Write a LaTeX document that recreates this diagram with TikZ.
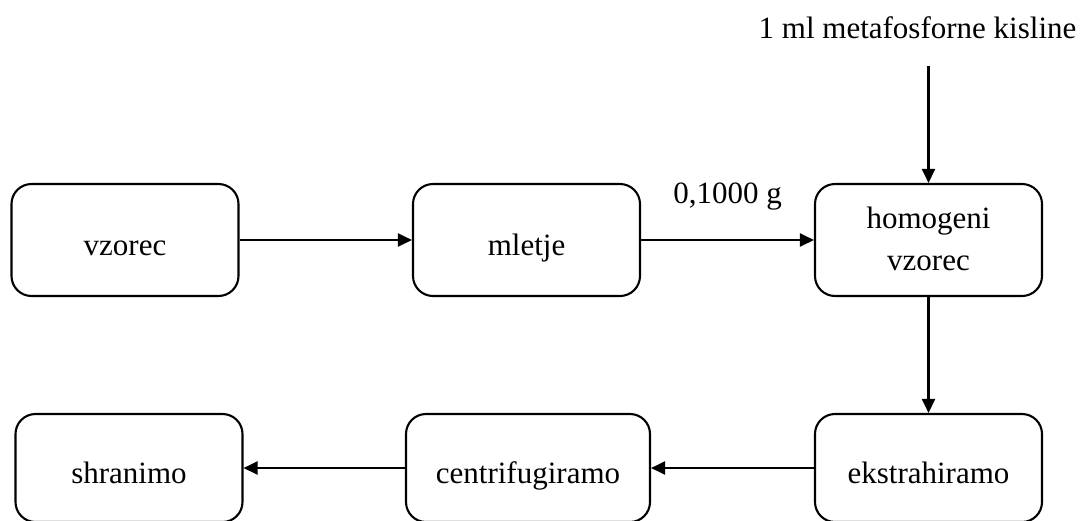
\documentclass[tikz,border=0pt]{standalone}
\usepackage{fontspec}
\setmainfont{Liberation Serif}
\usetikzlibrary{arrows.meta}
\tikzset{
  stepbox/.style={draw, line width=2.1pt, rounded corners=20pt, minimum width=227pt,
    minimum height=112pt, inner sep=0pt, font=\fontsize{31}{42}\selectfont,
    text height=30pt, text depth=0pt},
  lowbox/.style={stepbox, minimum height=108pt},
  txt/.style={font=\fontsize{31}{42}\selectfont, inner sep=0pt},
  flow/.style={line width=2.3pt, -{Triangle[length=14pt,width=13pt]}}
}
\begin{document}
\begin{tikzpicture}[x=1pt,y=-1pt]
\useasboundingbox (0,0) rectangle (1087,520);
\node[stepbox] (vz) at (125,240) {vzorec};
\node[stepbox] (ml) at (526.5,240) {mletje};
\node[stepbox, align=center, text height=60pt, text depth=0pt] (hv) at (928.5,240) {homogeni\\vzorec};
\node[lowbox] (ek) at (928.5,468) {ekstrahiramo};
\node[lowbox, minimum width=244pt] (ce) at (528,468) {centrifugiramo};
\node[lowbox] (sh) at (129,468) {shranimo};
\node[txt, anchor=base] (mk) at (917.5,38) {1 ml metafosforne kisline};
\coordinate (mka) at (928.5,66);
\draw[flow] (vz) -- (ml);
\draw[flow] (ml) -- node[txt, midway, anchor=base, yshift=37pt] (lab) {0,1000 g} (hv);
\draw[flow] (mka) -- (hv);
\draw[flow] (hv) -- (ek);
\draw[flow] (ek) -- (ce);
\draw[flow] (ce) -- (sh);
\end{tikzpicture}
\end{document}
